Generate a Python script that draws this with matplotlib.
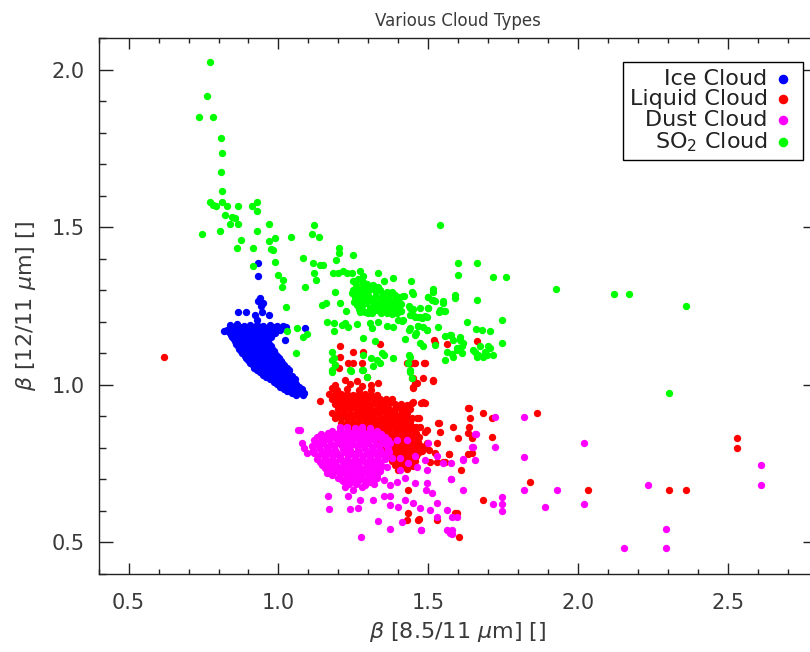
import numpy as np
import matplotlib
matplotlib.use("Agg")
import matplotlib.pyplot as plt
from matplotlib.ticker import MultipleLocator

# points (x = beta 8.5/11, y = beta 12/11)
ice_pts = [
    (0.931, 1.386), (0.931, 1.346), (0.939, 1.275), (0.933, 1.265), (0.950, 1.259),
    (0.941, 1.249), (0.944, 1.233), (0.866, 1.231), (0.892, 1.231), (0.969, 1.222),
    (0.922, 1.222), (0.928, 1.206), (0.820, 1.172), (1.022, 1.143), (1.089, 1.180),
    (0.840, 1.190), (0.862, 1.192), (0.884, 1.188), (0.906, 1.191), (0.928, 1.189),
    (0.950, 1.187), (0.972, 1.190), (0.994, 1.186), (1.016, 1.188),
    (0.851, 1.183), (0.873, 1.184), (0.895, 1.182), (0.917, 1.183), (0.939, 1.185),
    (0.961, 1.182), (0.983, 1.183), (1.005, 1.181), (1.027, 1.183),
    (0.830, 1.175), (0.851, 1.176), (0.873, 1.174), (0.895, 1.177), (0.917, 1.175),
    (0.939, 1.173), (0.961, 1.176), (0.983, 1.174), (1.005, 1.175), (1.027, 1.177),
    (0.836, 1.168), (0.858, 1.169), (0.880, 1.167), (0.902, 1.168), (0.924, 1.170),
    (0.946, 1.167), (0.968, 1.168), (0.990, 1.166),
    (0.842, 1.160), (0.864, 1.161), (0.886, 1.158), (0.908, 1.160), (0.930, 1.162),
    (0.952, 1.159), (0.974, 1.160),
    (0.846, 1.153), (0.868, 1.154), (0.890, 1.152), (0.912, 1.153), (0.934, 1.155),
    (0.956, 1.152), (0.975, 1.153),
    (0.851, 1.145), (0.873, 1.146), (0.895, 1.144), (0.917, 1.145), (0.939, 1.147),
    (0.961, 1.144),
    (0.856, 1.138), (0.878, 1.139), (0.900, 1.137), (0.922, 1.138), (0.944, 1.140),
    (0.966, 1.137),
    (0.860, 1.130), (0.882, 1.131), (0.904, 1.129), (0.926, 1.130), (0.948, 1.132),
    (0.970, 1.129),
    (0.866, 1.123), (0.888, 1.124), (0.910, 1.122), (0.932, 1.123), (0.954, 1.125),
    (0.974, 1.122),
    (0.868, 1.115), (0.890, 1.116), (0.912, 1.114), (0.934, 1.115), (0.956, 1.117),
    (0.978, 1.114),
    (0.875, 1.108), (0.897, 1.109), (0.919, 1.107), (0.941, 1.108), (0.963, 1.110),
    (0.984, 1.107),
    (0.880, 1.100), (0.902, 1.101), (0.924, 1.099), (0.946, 1.100), (0.968, 1.102),
    (0.990, 1.099),
    (0.887, 1.093), (0.909, 1.094), (0.931, 1.092), (0.953, 1.093), (0.975, 1.095),
    (0.996, 1.092),
    (0.892, 1.085), (0.914, 1.086), (0.936, 1.084), (0.958, 1.085), (0.980, 1.087),
    (1.002, 1.084),
    (0.900, 1.078), (0.922, 1.079), (0.944, 1.077), (0.966, 1.078), (0.988, 1.080),
    (1.008, 1.077),
    (0.906, 1.070), (0.928, 1.071), (0.950, 1.069), (0.972, 1.070), (0.994, 1.072),
    (1.012, 1.069),
    (0.914, 1.063), (0.936, 1.064), (0.958, 1.062), (0.980, 1.063), (1.002, 1.065),
    (1.020, 1.062),
    (0.920, 1.055), (0.942, 1.056), (0.964, 1.054), (0.986, 1.055), (1.008, 1.057),
    (1.028, 1.054),
    (0.930, 1.048), (0.952, 1.049), (0.974, 1.047), (0.996, 1.048), (1.018, 1.050),
    (1.035, 1.047),
    (0.940, 1.040), (0.962, 1.041), (0.984, 1.039), (1.006, 1.040), (1.028, 1.042),
    (0.950, 1.033), (0.972, 1.034), (0.994, 1.032), (1.016, 1.033), (1.037, 1.035),
    (0.960, 1.025), (0.982, 1.026), (1.004, 1.024), (1.026, 1.025), (1.045, 1.027),
    (0.972, 1.018), (0.994, 1.019), (1.016, 1.017), (1.038, 1.018), (1.056, 1.020),
    (0.985, 1.010), (1.007, 1.011), (1.029, 1.009), (1.051, 1.010),
    (0.995, 1.003), (1.017, 1.004), (1.039, 1.002), (1.060, 1.003),
    (1.005, 0.995), (1.027, 0.996), (1.049, 0.994), (1.068, 0.995),
    (1.018, 0.988), (1.040, 0.989), (1.062, 0.987), (1.078, 0.988),
    (1.030, 0.980), (1.052, 0.981), (1.074, 0.979),
    (1.045, 0.974), (1.067, 0.975), (1.086, 0.973),
    (1.060, 0.968), (1.082, 0.969),
]

liquid_pts = [
    (0.617, 1.089),
    (1.206, 1.124), (1.250, 1.103), (1.282, 1.103), (1.339, 1.130), (1.206, 1.088),
    (1.234, 1.069), (1.250, 1.069), (1.278, 1.069), (1.189, 1.063), (1.204, 1.053),
    (1.261, 1.011), (1.295, 1.026), (1.334, 1.005), (1.139, 0.950), (1.223, 1.016),
    (1.195, 0.984), (1.178, 0.989), (1.440, 1.069), (1.456, 1.069), (1.490, 1.069),
    (1.445, 1.021), (1.462, 1.005), (1.484, 1.021), (1.517, 1.011), (1.523, 1.132),
    (1.562, 1.130), (1.662, 1.138), (1.520, 1.143), (1.428, 1.071), (1.453, 1.071),
    (1.486, 1.071), (1.448, 1.021), (1.515, 1.016), (1.448, 0.989),
    (1.351, 0.942), (1.362, 0.947), (1.428, 0.936), (1.451, 0.947), (1.484, 0.947),
    (1.395, 0.899), (1.462, 0.894), (1.451, 0.868), (1.490, 0.852), (1.534, 0.878),
    (1.584, 0.868), (1.634, 0.926), (1.640, 0.894), (1.682, 0.912), (1.601, 0.831),
    (1.645, 0.831), (1.529, 0.815),
    (1.451, 0.993), (1.456, 1.007), (1.445, 0.944), (1.475, 0.944), (1.490, 0.944),
    (1.637, 0.928), (1.712, 0.894), (1.865, 0.912), (1.471, 0.894), (1.473, 0.868),
    (1.495, 0.857), (1.538, 0.852), (1.638, 0.868), (1.634, 0.847), (1.712, 0.834),
    (1.568, 0.781), (1.634, 0.781), (1.504, 0.794), (1.523, 0.785), (1.551, 0.757),
    (1.610, 0.730), (1.529, 0.757), (2.530, 0.831), (2.530, 0.799), (1.840, 0.693),
    (2.035, 0.665), (2.305, 0.665), (2.360, 0.665), (1.684, 0.635), (1.434, 0.667),
    (1.590, 0.593), (1.531, 0.571), (1.471, 0.574), (1.428, 0.571), (1.434, 0.593),
    (1.602, 0.516), (1.467, 0.571), (1.595, 0.595), (1.536, 0.880), (1.646, 0.783),
    (1.571, 0.781), (1.556, 0.754), (1.506, 0.757), (1.467, 0.783), (1.495, 0.815),
    (1.190, 1.000), (1.240, 1.002), (1.280, 0.998), (1.310, 1.001),
    (1.190, 0.985), (1.230, 0.986), (1.270, 0.984), (1.310, 0.985),
    (1.170, 0.970), (1.210, 0.972), (1.250, 0.968), (1.290, 0.971), (1.330, 0.969),
    (1.190, 0.969), (1.230, 0.971), (1.270, 0.970), (1.310, 0.968),
    (1.180, 0.955), (1.220, 0.956), (1.260, 0.954), (1.300, 0.955), (1.340, 0.956),
    (1.380, 0.954), (1.200, 0.954), (1.240, 0.956), (1.280, 0.955), (1.320, 0.954),
    (1.360, 0.956),
    (1.190, 0.940), (1.230, 0.942), (1.270, 0.938), (1.300, 0.941), (1.340, 0.939),
    (1.370, 0.942), (1.410, 0.938), (1.210, 0.941), (1.250, 0.939), (1.285, 0.940),
    (1.320, 0.942), (1.355, 0.940), (1.390, 0.941),
    (1.200, 0.925), (1.240, 0.926), (1.280, 0.924), (1.310, 0.925), (1.350, 0.926),
    (1.390, 0.924), (1.420, 0.925), (1.220, 0.924), (1.260, 0.925), (1.295, 0.926),
    (1.330, 0.924), (1.370, 0.925), (1.405, 0.926), (1.440, 0.924),
    (1.180, 0.910), (1.220, 0.912), (1.260, 0.908), (1.290, 0.911), (1.320, 0.909),
    (1.360, 0.912), (1.390, 0.908), (1.430, 0.911), (1.200, 0.909), (1.240, 0.910),
    (1.275, 0.911), (1.305, 0.909), (1.340, 0.910), (1.375, 0.911), (1.410, 0.909),
    (1.190, 0.895), (1.230, 0.896), (1.270, 0.894), (1.300, 0.895), (1.340, 0.896),
    (1.370, 0.894), (1.400, 0.895), (1.430, 0.896), (1.210, 0.894), (1.250, 0.895),
    (1.285, 0.896), (1.320, 0.894), (1.355, 0.895), (1.385, 0.896), (1.415, 0.894),
    (1.445, 0.895),
    (1.210, 0.880), (1.250, 0.882), (1.290, 0.878), (1.320, 0.881), (1.350, 0.879),
    (1.380, 0.882), (1.410, 0.878), (1.440, 0.881), (1.230, 0.879), (1.270, 0.880),
    (1.305, 0.881), (1.335, 0.879), (1.365, 0.880), (1.395, 0.881), (1.425, 0.879),
    (1.240, 0.865), (1.280, 0.866), (1.310, 0.864), (1.340, 0.865), (1.370, 0.866),
    (1.400, 0.864), (1.430, 0.865), (1.460, 0.866), (1.260, 0.864), (1.295, 0.865),
    (1.325, 0.866), (1.355, 0.864), (1.385, 0.865), (1.415, 0.866), (1.445, 0.864),
    (1.270, 0.850), (1.310, 0.852), (1.340, 0.848), (1.370, 0.851), (1.400, 0.849),
    (1.430, 0.852), (1.460, 0.848), (1.290, 0.849), (1.325, 0.850), (1.355, 0.851),
    (1.385, 0.849), (1.415, 0.850), (1.445, 0.851),
    (1.300, 0.835), (1.330, 0.836), (1.360, 0.834), (1.390, 0.835), (1.420, 0.836),
    (1.450, 0.834), (1.470, 0.835), (1.315, 0.834), (1.345, 0.835), (1.375, 0.836),
    (1.405, 0.834), (1.435, 0.835), (1.460, 0.836),
    (1.330, 0.820), (1.360, 0.822), (1.390, 0.818), (1.420, 0.821), (1.450, 0.819),
    (1.345, 0.821), (1.375, 0.819), (1.405, 0.820), (1.435, 0.822), (1.465, 0.820),
    (1.340, 0.805), (1.370, 0.806), (1.400, 0.804), (1.430, 0.805), (1.460, 0.806),
    (1.490, 0.804), (1.355, 0.804), (1.385, 0.805), (1.415, 0.806), (1.445, 0.804),
    (1.475, 0.805),
    (1.360, 0.790), (1.390, 0.792), (1.420, 0.788), (1.450, 0.791), (1.480, 0.789),
    (1.375, 0.789), (1.405, 0.790), (1.435, 0.791), (1.465, 0.789),
    (1.370, 0.775), (1.400, 0.776), (1.430, 0.774), (1.460, 0.775), (1.385, 0.774),
    (1.415, 0.775), (1.445, 0.776),
    (1.380, 0.760), (1.410, 0.762), (1.440, 0.758), (1.395, 0.761), (1.425, 0.759),
    (1.455, 0.760),
    (1.390, 0.745), (1.420, 0.746), (1.450, 0.744), (1.405, 0.745), (1.435, 0.744),
    (1.400, 0.730), (1.430, 0.732),
]

dust_pts = [
    (1.072, 0.857), (1.078, 0.815), (1.095, 0.783), (1.084, 0.799), (1.067, 0.857),
    (1.161, 0.720), (1.172, 0.720), (1.211, 0.698), (1.223, 0.677), (1.250, 0.667),
    (1.278, 0.677), (1.306, 0.693), (1.328, 0.704), (1.351, 0.698), (1.373, 0.683),
    (1.395, 0.693), (1.423, 0.704), (1.406, 0.730), (1.434, 0.751), (1.456, 0.773),
    (1.462, 0.741), (1.490, 0.762), (1.495, 0.730), (1.529, 0.773), (1.551, 0.751),
    (1.576, 0.751), (1.615, 0.764), (1.657, 0.844), (1.649, 0.804), (1.495, 0.688),
    (1.493, 0.667), (1.456, 0.688), (1.512, 0.656), (1.529, 0.624), (1.562, 0.603),
    (1.595, 0.582), (1.579, 0.582), (1.562, 0.540), (1.573, 0.529), (1.529, 0.582),
    (1.506, 0.603), (1.473, 0.609), (1.448, 0.624), (1.423, 0.635), (1.401, 0.614),
    (1.373, 0.619), (1.351, 0.646), (1.373, 0.646), (1.317, 0.635), (1.273, 0.635),
    (1.267, 0.609), (1.239, 0.605), (1.167, 0.648), (1.170, 0.605), (1.234, 0.646),
    (1.334, 0.569), (1.373, 0.542), (1.412, 0.566), (1.476, 0.540), (1.276, 0.519),
    (1.575, 0.701), (1.615, 0.667), (1.406, 0.767), (1.428, 0.825), (1.395, 0.825),
    (1.378, 0.767), (1.362, 0.741),
    (1.723, 0.899), (1.821, 0.899), (1.660, 0.845), (2.022, 0.815), (1.648, 0.802),
    (1.723, 0.802), (1.821, 0.771), (1.615, 0.762), (1.657, 0.762), (1.575, 0.703),
    (2.612, 0.747), (1.821, 0.667), (1.929, 0.667), (2.235, 0.682), (2.612, 0.682),
    (1.746, 0.643), (1.746, 0.622), (1.718, 0.622), (1.746, 0.600), (1.890, 0.614),
    (2.022, 0.622), (2.293, 0.543), (2.154, 0.484), (2.293, 0.484), (1.579, 0.540),
    (1.579, 0.527), (1.475, 0.540), (1.501, 0.815),
    (1.205, 0.865), (1.230, 0.866), (1.255, 0.864), (1.280, 0.866), (1.305, 0.864),
    (1.180, 0.855), (1.205, 0.856), (1.230, 0.854), (1.255, 0.855), (1.280, 0.856),
    (1.305, 0.854), (1.330, 0.855),
    (1.142, 0.845), (1.167, 0.846), (1.192, 0.844), (1.217, 0.845), (1.242, 0.846),
    (1.267, 0.844), (1.292, 0.845), (1.317, 0.846), (1.342, 0.844),
    (1.130, 0.835), (1.155, 0.836), (1.180, 0.834), (1.205, 0.835), (1.230, 0.836),
    (1.255, 0.834), (1.280, 0.835), (1.305, 0.836), (1.330, 0.834), (1.355, 0.835),
    (1.120, 0.825), (1.145, 0.826), (1.170, 0.824), (1.195, 0.825), (1.220, 0.826),
    (1.245, 0.824), (1.270, 0.825), (1.295, 0.826), (1.320, 0.824), (1.345, 0.825),
    (1.365, 0.826),
    (1.125, 0.815), (1.150, 0.816), (1.175, 0.814), (1.200, 0.815), (1.225, 0.816),
    (1.250, 0.814), (1.275, 0.815), (1.300, 0.816), (1.325, 0.814), (1.350, 0.815),
    (1.372, 0.816),
    (1.112, 0.805), (1.137, 0.806), (1.162, 0.804), (1.187, 0.805), (1.212, 0.806),
    (1.237, 0.804), (1.262, 0.805), (1.287, 0.806), (1.312, 0.804), (1.337, 0.805),
    (1.362, 0.806),
    (1.115, 0.795), (1.140, 0.796), (1.165, 0.794), (1.190, 0.795), (1.215, 0.796),
    (1.240, 0.794), (1.265, 0.795), (1.290, 0.796), (1.315, 0.794), (1.340, 0.795),
    (1.365, 0.796),
    (1.120, 0.785), (1.145, 0.786), (1.170, 0.784), (1.195, 0.785), (1.220, 0.786),
    (1.245, 0.784), (1.270, 0.785), (1.295, 0.786), (1.320, 0.784), (1.345, 0.785),
    (1.370, 0.786),
    (1.132, 0.775), (1.157, 0.776), (1.182, 0.774), (1.207, 0.775), (1.232, 0.776),
    (1.257, 0.774), (1.282, 0.775), (1.307, 0.776), (1.332, 0.774), (1.357, 0.775),
    (1.130, 0.765), (1.155, 0.766), (1.180, 0.764), (1.205, 0.765), (1.230, 0.766),
    (1.255, 0.764), (1.280, 0.765), (1.305, 0.766), (1.330, 0.764), (1.355, 0.765),
    (1.140, 0.755), (1.165, 0.756), (1.190, 0.754), (1.215, 0.755), (1.240, 0.756),
    (1.265, 0.754), (1.290, 0.755), (1.315, 0.756), (1.340, 0.754),
    (1.145, 0.745), (1.170, 0.746), (1.195, 0.744), (1.220, 0.745), (1.245, 0.746),
    (1.270, 0.744), (1.295, 0.745), (1.320, 0.746), (1.345, 0.744),
    (1.155, 0.735), (1.180, 0.736), (1.205, 0.734), (1.230, 0.735), (1.255, 0.736),
    (1.280, 0.734), (1.305, 0.735), (1.330, 0.736),
    (1.165, 0.725), (1.190, 0.726), (1.215, 0.724), (1.240, 0.725), (1.265, 0.726),
    (1.290, 0.724), (1.315, 0.725), (1.340, 0.726),
    (1.180, 0.715), (1.205, 0.716), (1.230, 0.714), (1.255, 0.715), (1.280, 0.716),
    (1.305, 0.714), (1.330, 0.715),
    (1.200, 0.705), (1.225, 0.706), (1.250, 0.704), (1.275, 0.705), (1.300, 0.706),
    (1.325, 0.704),
    (1.215, 0.695), (1.240, 0.696), (1.265, 0.694), (1.290, 0.695), (1.315, 0.696),
    (1.235, 0.685), (1.260, 0.686), (1.290, 0.684), (1.320, 0.685),
]

so2_pts = [
    (0.773, 2.024), (0.761, 1.918), (0.736, 1.850), (0.781, 1.850), (0.809, 1.785),
    (0.812, 1.735), (0.809, 1.677), (0.812, 1.617), (0.773, 1.579), (0.783, 1.571),
    (0.791, 1.569), (0.813, 1.582), (0.828, 1.569), (0.864, 1.569), (0.911, 1.569),
    (0.928, 1.582), (0.928, 1.551), (0.821, 1.540), (0.846, 1.534), (0.854, 1.529),
    (0.840, 1.512), (0.865, 1.512), (0.744, 1.480), (0.805, 1.489), (0.928, 1.489),
    (0.968, 1.511), (0.874, 1.461), (0.862, 1.435), (0.916, 1.435), (0.968, 1.456),
    (0.989, 1.467), (0.974, 1.430), (0.983, 1.428), (0.990, 1.389), (0.916, 1.378),
    (0.998, 1.349), (1.539, 1.508),
    (1.118, 1.506), (1.112, 1.479), (1.137, 1.471), (1.042, 1.468), (1.203, 1.436),
    (1.203, 1.420), (1.248, 1.411), (1.081, 1.403), (1.193, 1.395), (1.117, 1.386),
    (1.139, 1.381), (1.148, 1.381), (1.119, 1.355), (1.126, 1.332),
    (1.183, 1.356), (1.200, 1.354), (1.217, 1.362), (1.228, 1.354), (1.245, 1.356),
    (1.273, 1.362), (1.282, 1.346), (1.332, 1.354),
    (1.250, 1.330), (1.267, 1.336), (1.284, 1.327), (1.297, 1.320), (1.312, 1.314),
    (1.328, 1.309), (1.353, 1.330), (1.384, 1.340), (1.442, 1.330),
    (1.250, 1.302), (1.261, 1.312), (1.278, 1.317), (1.289, 1.307), (1.300, 1.312),
    (1.317, 1.317), (1.334, 1.312), (1.339, 1.302), (1.362, 1.296), (1.378, 1.296),
    (1.390, 1.286), (1.406, 1.280), (1.256, 1.280), (1.273, 1.286), (1.284, 1.275),
    (1.297, 1.286), (1.306, 1.270), (1.323, 1.280), (1.339, 1.275), (1.351, 1.265),
    (1.367, 1.270), (1.384, 1.265), (1.401, 1.259), (1.417, 1.283), (1.261, 1.254),
    (1.278, 1.249), (1.293, 1.259), (1.306, 1.243), (1.323, 1.249), (1.337, 1.254),
    (1.351, 1.238), (1.367, 1.243), (1.384, 1.238), (1.401, 1.243), (1.273, 1.233),
    (1.289, 1.233), (1.312, 1.227), (1.328, 1.238), (1.362, 1.227), (1.395, 1.227),
    (1.258, 1.318), (1.272, 1.306), (1.295, 1.298), (1.310, 1.305), (1.325, 1.296),
    (1.348, 1.288), (1.365, 1.282), (1.262, 1.268), (1.278, 1.262), (1.292, 1.270),
    (1.315, 1.262), (1.330, 1.258), (1.345, 1.252), (1.360, 1.256), (1.375, 1.252),
    (1.392, 1.248), (1.268, 1.242), (1.298, 1.228), (1.318, 1.240), (1.342, 1.228),
    (1.378, 1.225), (1.410, 1.235), (1.285, 1.295), (1.300, 1.285), (1.355, 1.275),
    (1.372, 1.290), (1.245, 1.292), (1.252, 1.262), (1.268, 1.295), (1.395, 1.272),
    (1.189, 1.296), (1.145, 1.254), (1.159, 1.259), (1.206, 1.259), (1.226, 1.236),
    (1.089, 1.312), (1.026, 1.247), (1.017, 1.333), (1.011, 1.312),
    (1.161, 1.201), (1.184, 1.196), (1.211, 1.190), (1.223, 1.196), (1.234, 1.185),
    (1.264, 1.194), (1.306, 1.196), (1.312, 1.180), (1.334, 1.201), (1.362, 1.187),
    (1.384, 1.183), (1.401, 1.206), (1.415, 1.206),
    (1.187, 1.172), (1.061, 1.180), (1.030, 1.172), (1.081, 1.151), (1.095, 1.161),
    (1.059, 1.101), (1.284, 1.148), (1.323, 1.138), (1.384, 1.085),
    (1.282, 1.095), (1.308, 1.085), (1.328, 1.079), (1.351, 1.095), (1.339, 1.069),
    (1.317, 1.060), (1.278, 1.048),
    (1.423, 1.145), (1.437, 1.175), (1.456, 1.159), (1.467, 1.187), (1.484, 1.185),
    (1.495, 1.175),
    (1.440, 1.243), (1.451, 1.222), (1.467, 1.217), (1.479, 1.212), (1.495, 1.217),
    (1.501, 1.243), (1.512, 1.270), (1.523, 1.265),
    (1.445, 1.296), (1.501, 1.278), (1.517, 1.304), (1.551, 1.265), (1.556, 1.236),
    (1.540, 1.238),
    (1.534, 1.185), (1.573, 1.159), (1.584, 1.143), (1.595, 1.116), (1.606, 1.143),
    (1.612, 1.101), (1.584, 1.090), (1.556, 1.079),
    (1.473, 1.132), (1.484, 1.122), (1.523, 1.127),
    (1.662, 1.388), (1.598, 1.386), (1.598, 1.349), (1.716, 1.341), (1.760, 1.341),
    (1.662, 1.268), (1.590, 1.286), (1.590, 1.275),
    (1.631, 1.201), (1.660, 1.177), (1.679, 1.175), (1.707, 1.172), (1.746, 1.206),
    (1.746, 1.134),
    (1.651, 1.111), (1.673, 1.122), (1.690, 1.106), (1.707, 1.116), (1.718, 1.095),
    (1.662, 1.090), (1.684, 1.090),
    (1.437, 1.095), (1.434, 1.069), (1.440, 1.042), (1.178, 1.106), (1.184, 1.085),
    (1.178, 1.042), (1.243, 1.044),
    (1.562, 1.106), (1.579, 1.098), (1.596, 1.111), (1.612, 1.122), (1.617, 1.134),
    (1.556, 1.156), (1.576, 1.159), (1.607, 1.153), (1.668, 1.095), (1.696, 1.095),
    (1.701, 1.122), (1.657, 1.106),
    (1.439, 1.222), (1.456, 1.217), (1.473, 1.215), (1.490, 1.219), (1.412, 1.204),
    (1.437, 1.251), (1.451, 1.240), (1.473, 1.243), (1.500, 1.243), (1.467, 1.187),
    (1.439, 1.180), (1.460, 1.166), (1.495, 1.173),
    (1.553, 1.236), (1.537, 1.233), (1.551, 1.261), (1.500, 1.280), (1.515, 1.268),
    (1.420, 1.283), (1.411, 1.257), (1.448, 1.288), (1.515, 1.296),
    (1.178, 1.079), (1.189, 1.063), (1.178, 1.048), (1.239, 1.048), (1.284, 1.048),
    (1.295, 1.026), (1.345, 1.101), (1.440, 1.090), (1.440, 1.048), (1.445, 1.021),
    (1.927, 1.304), (2.122, 1.287), (2.171, 1.287), (2.360, 1.249), (2.303, 0.975),
]

series = [
    ("Ice Cloud", ice_pts, "#0000ff"),
    ("Liquid Cloud", liquid_pts, "#ff0000"),
    ("Dust Cloud", dust_pts, "#ff00ff"),
    ("SO$_2$ Cloud", so2_pts, "#00ff00"),
]

txt = "#3a3a3a"
plt.rcParams["font.family"] = ["DejaVu Sans"]

fig = plt.figure(figsize=(8.1, 6.52), dpi=100)
# right spine sits just outside the picture, as in the reference
ax = fig.add_axes([98.7 / 810, 78 / 652, 718.8 / 810, 535.7 / 652])

for name, pts, col in series:
    arr = np.array(pts)
    ax.scatter(arr[:, 0], arr[:, 1], s=28, c=col, linewidths=0, label=name)

ax.set_xlim(0.4, 2.8)
ax.set_ylim(0.4, 2.1)
ax.xaxis.set_major_locator(MultipleLocator(0.5))
ax.xaxis.set_minor_locator(MultipleLocator(0.1))
ax.yaxis.set_major_locator(MultipleLocator(0.5))
ax.yaxis.set_minor_locator(MultipleLocator(0.1))
ax.tick_params(which="both", direction="in", top=True, right=True,
               color="#222222", labelcolor=txt, labelsize=15, width=1)
ax.tick_params(axis="x", which="major", length=7.6, pad=14)
ax.tick_params(axis="x", which="minor", length=3.8)
ax.tick_params(axis="y", which="major", length=10.4, pad=10)
ax.tick_params(axis="y", which="minor", length=5.2)
for sp in ax.spines.values():
    sp.set_color("#222222")
    sp.set_linewidth(1.0)

ax.set_title("Various Cloud Types", fontsize=12, color=txt, pad=9)
ax.set_xlabel(r"$\beta$ [8.5/11 $\mu$m] []", fontsize=16, color=txt, labelpad=5)
ax.set_ylabel(r"$\beta$ [12/11 $\mu$m] []", fontsize=16, color=txt, labelpad=10)

leg = ax.legend(loc="upper right", bbox_to_anchor=(0.980, 0.9557), borderaxespad=0,
                markerfirst=False, fancybox=False, edgecolor="black", framealpha=1,
                fontsize=16, handletextpad=0.1, labelspacing=0.02, borderpad=0.3,
                handlelength=1.2, scatterpoints=1, markerscale=1.3)
leg.get_frame().set_linewidth(1.0)
for t in leg.get_texts():
    t.set_color("#222222")

fig.savefig("out.png", dpi=100)
